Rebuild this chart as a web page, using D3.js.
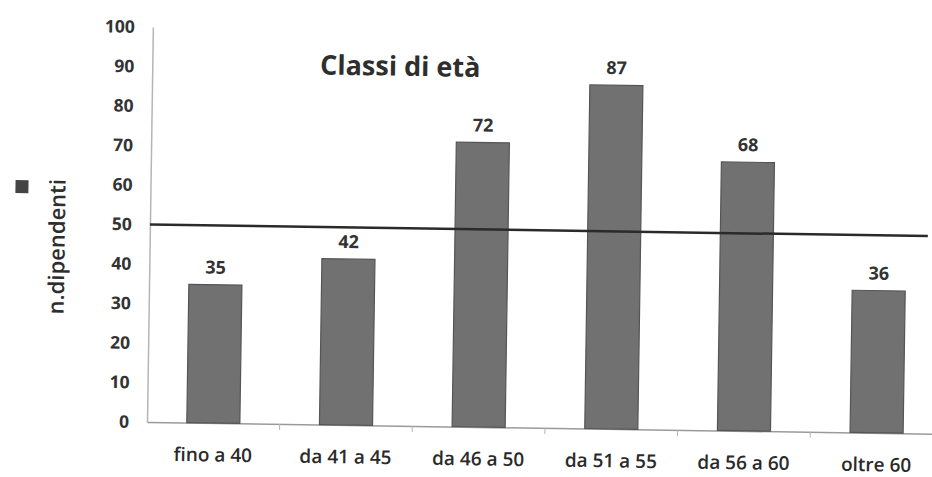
<!DOCTYPE html>
<html><head><meta charset="utf-8">
<script src="https://cdn.jsdelivr.net/npm/d3@7"></script>
<style>body{margin:0;background:#fff}svg{display:block}</style>
</head><body>
<svg id="c" width="932" height="477"></svg>
<script>
const categories = ["fino a 40","da 41 a 45","da 46 a 50","da 51 a 55","da 56 a 60","oltre 60"];
const values = [35, 42, 72, 87, 68, 36];
const refValue = 50;
const yTicks = [0,10,20,30,40,50,60,70,80,90,100];
const title = "Classi di età";
const yTitle = "n.dipendenti";

const svg = d3.select("#c");
const font = "'Open Sans', sans-serif";
const x0 = 147, yBase = 422;
const g = svg.append("g").attr("transform", `rotate(0.85, ${x0}, ${yBase})`);

const x = d3.scaleBand().domain(categories).range([x0, 943]).paddingInner(0.6).paddingOuter(0.3);
const y = d3.scaleLinear().domain([0, 100]).range([yBase, 27]);

// y axis
const yAxis = g.append("g").attr("transform", `translate(${x0},0)`)
  .call(d3.axisLeft(y).tickValues(yTicks).tickSize(0).tickPadding(18));
yAxis.select(".domain").attr("stroke", "#b5b5b5").attr("stroke-width", 1.5);
yAxis.selectAll("text").attr("font-family", font).attr("font-size", 17.5).attr("font-weight", "bold").attr("fill", "#333");

// x axis
const xAxis = g.append("g").attr("transform", `translate(0,${yBase})`)
  .call(d3.axisBottom(x).tickSize(0).tickPadding(25));
xAxis.select(".domain").attr("stroke", "#9a9a9a").attr("stroke-width", 1.5);
xAxis.selectAll("text").attr("font-family", font).attr("font-size", 19).attr("font-weight", 600).attr("fill", "#2a2a2a");
// tick marks at band boundaries
const step = x.step();
g.append("g").selectAll("line").data(categories.slice(1)).join("line")
  .attr("x1", d => x(d) - (step - x.bandwidth()) / 2)
  .attr("x2", d => x(d) - (step - x.bandwidth()) / 2)
  .attr("y1", yBase).attr("y2", yBase + 6)
  .attr("stroke", "#b5b5b5").attr("stroke-width", 1);

// bars
g.append("g").selectAll("rect").data(values).join("rect")
  .attr("x", (d, i) => x(categories[i]))
  .attr("y", d => y(d))
  .attr("width", x.bandwidth())
  .attr("height", d => yBase - y(d))
  .attr("fill", "#717171").attr("stroke", "#555").attr("stroke-width", 1.2);

// data labels
g.append("g").selectAll("text").data(values).join("text")
  .attr("x", (d, i) => x(categories[i]) + x.bandwidth() / 2)
  .attr("y", d => y(d) - 11)
  .attr("text-anchor", "middle")
  .attr("font-family", font).attr("font-size", 18).attr("font-weight", "bold").attr("fill", "#333")
  .text(d => d);

// reference line
g.append("line")
  .attr("x1", x0).attr("x2", 925)
  .attr("y1", y(refValue)).attr("y2", y(refValue))
  .attr("stroke", "#2a2a2a").attr("stroke-width", 2.5);

// title
g.append("text").attr("x", 395).attr("y", 72).attr("text-anchor", "middle")
  .attr("font-family", font).attr("font-size", 27).attr("font-weight", "bold").attr("fill", "#2e2e2e")
  .text(title);

// y title with legend square
g.append("rect").attr("x", 12).attr("y", 182).attr("width", 13).attr("height", 13).attr("fill", "#444");
g.append("text").attr("transform", "translate(62,248) rotate(-90)").attr("text-anchor", "middle")
  .attr("font-family", font).attr("font-size", 22).attr("font-weight", 600).attr("fill", "#2e2e2e")
  .text(yTitle);
</script>
</body></html>
